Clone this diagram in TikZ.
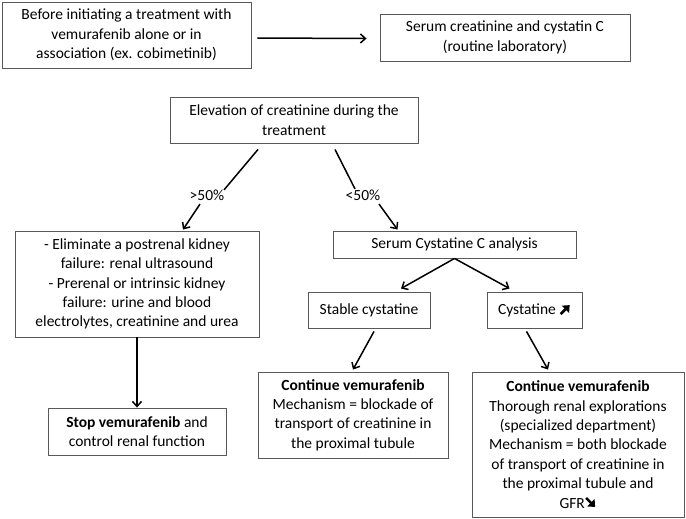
\documentclass[tikz,border=0pt]{standalone}
\usepackage{fontspec}
\usetikzlibrary{arrows.meta}
\setmainfont{Carlito}
\newcommand{\uparr}{\tikz[x=1pt,y=1pt,baseline=0pt] \draw[line width=2.6pt,-{Triangle[length=6pt,width=10pt]}] (0,0) -- (9,9);}
\newcommand{\downarr}{\tikz[x=1pt,y=1pt,baseline=0pt] \draw[line width=2.6pt,-{Triangle[length=6pt,width=10pt]}] (0,10) -- (9,1);}

\begin{document}
\begin{tikzpicture}[x=1pt, y=-1pt, line width=1.5pt, >={Straight Barb[length=5pt,width=9pt]},
    font=\fontsize{15.5}{19.4}\selectfont,
    box/.style={draw=black!65, line width=0.9pt, align=center, inner sep=2pt},
    lbl/.style={inner sep=1pt}]
        \useasboundingbox (0,0) rectangle (686,519);

        \node[box, minimum width=249, minimum height=66] (start) at (126.5,35) {Before initiating a treatment with\\vemurafenib alone or in\\association (ex. cobimetinib)};
        \node[box, minimum width=250, minimum height=47] (lab) at (505,37.5) {Serum creatinine and cystatin C\\(routine laboratory)};
        \node[box, minimum width=248, minimum height=46] (elev) at (294,120) {Elevation of creatinine during the\\treatment};
        \node[lbl] (gt) at (207,195) {>50\%};
        \node[lbl] (lt) at (363,195) {<50\%};
        \node[box, minimum width=244, minimum height=106] (elim) at (137,284) {- Eliminate a postrenal kidney\\failure: renal ultrasound\\- Prerenal or intrinsic kidney\\failure: urine and blood\\electrolytes, creatinine and urea};
        \node[box, minimum width=243, minimum height=27] (cysc) at (454.5,244.5) {Serum Cystatine C analysis};
        \node[box, minimum width=122, minimum height=36] (stable) at (369,310) {Stable cystatine};
        \node[box, minimum width=95, minimum height=36] (rise) at (534.5,310) {Cystatine \uparr};
        \node[box, minimum width=178, minimum height=47] (stop) at (137,431.5) {\textbf{Stop vemurafenib} and\\control renal function};
        \node[box, minimum width=190, minimum height=86] (cont) at (353,415) {\textbf{Continue vemurafenib}\\Mechanism = blockade of\\transport of creatinine in\\the proximal tubule};
        \node[box, minimum width=212, minimum height=145] (explo) at (578,444.5) {\textbf{Continue vemurafenib}\\Thorough renal explorations\\(specialized department)\\Mechanism = both blockade\\of transport of creatinine in\\the proximal tubule and\\GFR\downarr};

        \draw[->] ([xshift=6pt,yshift=-3pt]start.east) -- ([xshift=-13pt,yshift=-1pt]lab.west);
        \draw ([xshift=-36pt,yshift=-6pt]elev.south) -- ([xshift=-2pt,yshift=-2pt]gt.north east);
        \draw[->] ([xshift=-7pt,yshift=-2pt]gt.south) -- ([xshift=46pt,yshift=1pt]elim.north);
        \draw ([xshift=41pt,yshift=-6pt]elev.south) -- ([xshift=-8pt,yshift=-1pt]lt.north);
        \draw[->] ([xshift=-3pt,yshift=-2pt]lt.south east) -- ([xshift=-57pt,yshift=1pt]cysc.north);
        \draw[->] (cysc.south) -- ([xshift=32pt,yshift=3pt]stable.north);
        \draw[->] (cysc.south) -- ([xshift=-25pt,yshift=3pt]rise.north);
        \draw[->] (elim.south) -- (stop.north);
        \draw[->] ([xshift=5pt,yshift=-3pt]stable.south) -- ([yshift=2pt]cont.north);
        \draw[->] ([xshift=-8pt,yshift=-3pt]rise.south) -- ([xshift=-30pt,yshift=2pt]explo.north);
      \end{tikzpicture}
\end{document}
